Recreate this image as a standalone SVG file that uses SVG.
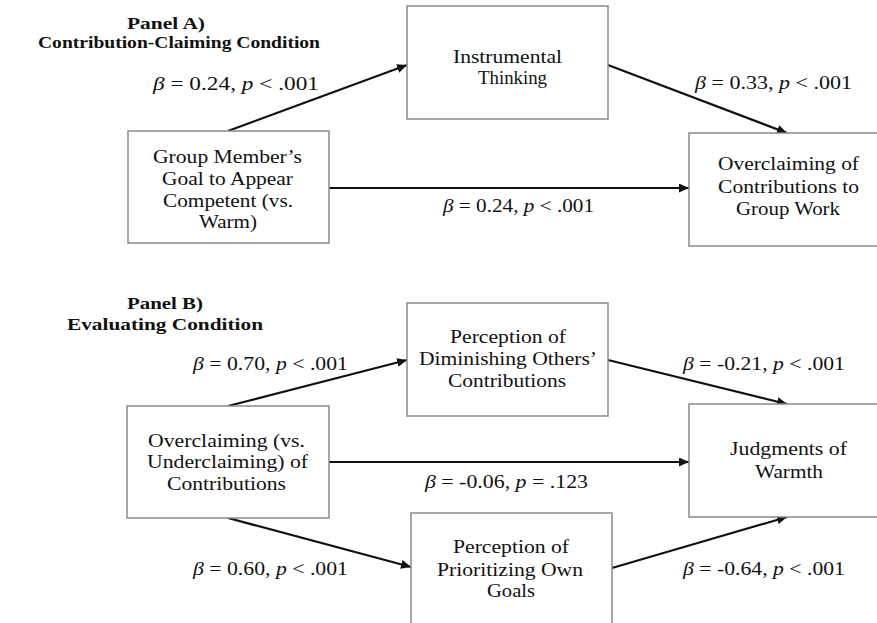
<svg xmlns="http://www.w3.org/2000/svg" width="877" height="623" viewBox="0 0 877 623">
<style>
  .box{fill:#fff;stroke:#8a8a8a;stroke-width:1.5}
  .edge{stroke:#111;stroke-width:2.2;fill:none}
  .t{font-family:"Liberation Serif","Times New Roman",serif;font-size:19.5px;fill:#111}
  .title{font-family:"Liberation Serif","Times New Roman",serif;font-size:17px;font-weight:bold;fill:#111}
  .lab{font-family:"Liberation Serif","Times New Roman",serif;font-size:19.5px;fill:#111}
  .i{font-style:italic}
</style>
<defs>
  <marker id="ah" markerUnits="userSpaceOnUse" markerWidth="11" markerHeight="9" refX="10" refY="4.5" orient="auto">
    <path d="M0,0 L10,4.5 L0,9 Z" fill="#111"/>
  </marker>
</defs>
<rect width="877" height="623" fill="#fff"/>

<g id="titles">
  <text class="title" x="127" y="29" textLength="78" lengthAdjust="spacingAndGlyphs">Panel A)</text>
  <text class="title" x="38" y="48" textLength="282" lengthAdjust="spacingAndGlyphs">Contribution-Claiming Condition</text>
  <text class="title" x="127" y="309" textLength="76" lengthAdjust="spacingAndGlyphs">Panel B)</text>
  <text class="title" x="67" y="330" textLength="196" lengthAdjust="spacingAndGlyphs">Evaluating Condition</text>
</g>

<g id="connectors">
  <line class="edge" x1="228" y1="131" x2="407" y2="65" marker-end="url(#ah)"/>
  <line class="edge" x1="608" y1="65" x2="787" y2="133" marker-end="url(#ah)"/>
  <line class="edge" x1="329" y1="188" x2="689" y2="188" marker-end="url(#ah)"/>
  <line class="edge" x1="228" y1="406" x2="407" y2="360" marker-end="url(#ah)"/>
  <line class="edge" x1="608" y1="360" x2="787" y2="404" marker-end="url(#ah)"/>
  <line class="edge" x1="329" y1="462" x2="689" y2="462" marker-end="url(#ah)"/>
  <line class="edge" x1="228" y1="518" x2="411" y2="567" marker-end="url(#ah)"/>
  <line class="edge" x1="612" y1="568" x2="787" y2="517" marker-end="url(#ah)"/>
</g>

<g id="labels">
  <text class="lab" x="153" y="90" textLength="166" lengthAdjust="spacingAndGlyphs"><tspan class="i">β</tspan> = 0.24, <tspan class="i">p</tspan> &lt; .001</text>
  <text class="lab" x="695" y="89" textLength="157" lengthAdjust="spacingAndGlyphs"><tspan class="i">β</tspan> = 0.33, <tspan class="i">p</tspan> &lt; .001</text>
  <text class="lab" x="443" y="212" textLength="151" lengthAdjust="spacingAndGlyphs"><tspan class="i">β</tspan> = 0.24, <tspan class="i">p</tspan> &lt; .001</text>
  <text class="lab" x="193" y="370" textLength="155" lengthAdjust="spacingAndGlyphs"><tspan class="i">β</tspan> = 0.70, <tspan class="i">p</tspan> &lt; .001</text>
  <text class="lab" x="683" y="370" textLength="162" lengthAdjust="spacingAndGlyphs"><tspan class="i">β</tspan> = -0.21, <tspan class="i">p</tspan> &lt; .001</text>
  <text class="lab" x="425" y="488" textLength="163" lengthAdjust="spacingAndGlyphs"><tspan class="i">β</tspan> = -0.06, <tspan class="i">p</tspan> = .123</text>
  <text class="lab" x="193" y="575" textLength="155" lengthAdjust="spacingAndGlyphs"><tspan class="i">β</tspan> = 0.60, <tspan class="i">p</tspan> &lt; .001</text>
  <text class="lab" x="683" y="575" textLength="162" lengthAdjust="spacingAndGlyphs"><tspan class="i">β</tspan> = -0.64, <tspan class="i">p</tspan> &lt; .001</text>
</g>

<g id="instrumental">
  <rect class="box" x="407" y="6" width="201" height="113"/>
  <text class="t" x="453" y="63" textLength="109" lengthAdjust="spacingAndGlyphs">Instrumental</text>
  <text class="t" x="478" y="84" textLength="69" lengthAdjust="spacingAndGlyphs">Thinking</text>
</g>

<g id="goal">
  <rect class="box" x="128" y="131" width="201" height="112"/>
  <text class="t" x="153" y="163" textLength="149" lengthAdjust="spacingAndGlyphs">Group Member’s</text>
  <text class="t" x="162" y="185" textLength="131" lengthAdjust="spacingAndGlyphs">Goal to Appear</text>
  <text class="t" x="163" y="207" textLength="130" lengthAdjust="spacingAndGlyphs">Competent (vs.</text>
  <text class="t" x="199" y="228" textLength="58" lengthAdjust="spacingAndGlyphs">Warm)</text>
</g>

<g id="overclaimingA">
  <rect class="box" x="689" y="133" width="201" height="113"/>
  <text class="t" x="718" y="170" textLength="141" lengthAdjust="spacingAndGlyphs">Overclaiming of</text>
  <text class="t" x="718" y="193" textLength="141" lengthAdjust="spacingAndGlyphs">Contributions to</text>
  <text class="t" x="736" y="215" textLength="104" lengthAdjust="spacingAndGlyphs">Group Work</text>
</g>

<g id="diminishing">
  <rect class="box" x="407" y="303" width="201" height="113"/>
  <text class="t" x="450" y="343" textLength="116" lengthAdjust="spacingAndGlyphs">Perception of</text>
  <text class="t" x="419" y="365" textLength="178" lengthAdjust="spacingAndGlyphs">Diminishing Others’</text>
  <text class="t" x="448" y="387" textLength="118" lengthAdjust="spacingAndGlyphs">Contributions</text>
</g>

<g id="overclaimingB">
  <rect class="box" x="127" y="406" width="202" height="112"/>
  <text class="t" x="148" y="447" textLength="157" lengthAdjust="spacingAndGlyphs">Overclaiming (vs.</text>
  <text class="t" x="147" y="468" textLength="161" lengthAdjust="spacingAndGlyphs">Underclaiming) of</text>
  <text class="t" x="167" y="490" textLength="119" lengthAdjust="spacingAndGlyphs">Contributions</text>
</g>

<g id="judgments">
  <rect class="box" x="689" y="404" width="201" height="113"/>
  <text class="t" x="730" y="455" textLength="117" lengthAdjust="spacingAndGlyphs">Judgments of</text>
  <text class="t" x="755" y="478" textLength="68" lengthAdjust="spacingAndGlyphs">Warmth</text>
</g>

<g id="prioritizing">
  <rect class="box" x="411" y="513" width="201" height="118"/>
  <text class="t" x="453" y="553" textLength="116" lengthAdjust="spacingAndGlyphs">Perception of</text>
  <text class="t" x="437" y="576" textLength="146" lengthAdjust="spacingAndGlyphs">Prioritizing Own</text>
  <text class="t" x="487" y="597" textLength="48" lengthAdjust="spacingAndGlyphs">Goals</text>
</g>
</svg>
